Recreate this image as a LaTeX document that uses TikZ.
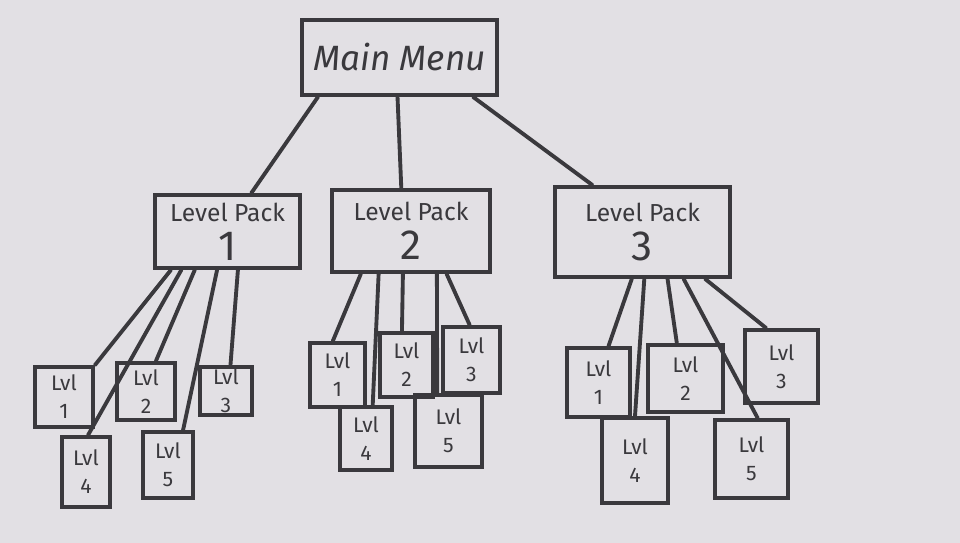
\documentclass[tikz,border=0pt]{standalone}
\usepackage{fontspec}
\setmainfont{Fira Sans}
\usepackage{xcolor}
\usetikzlibrary{calc}
\definecolor{paper}{HTML}{E2E0E4}
\definecolor{ink}{HTML}{3A393D}

\begin{document}
\begin{tikzpicture}[x=0.02cm,y=-0.02cm,line width=2.2pt,text=ink]
\tikzset{menubox/.style={draw=ink,inner sep=0pt,align=center,minimum width=195*0.02cm,minimum height=75*0.02cm,font=\fontsize{20}{22}\selectfont\itshape}}
\tikzset{packbox/.style 2 args={draw=ink,inner sep=0pt,align=center,minimum width=#1*0.02cm,minimum height=#2*0.02cm,font=\fontsize{14}{20}\selectfont}}
\tikzset{lvlbox/.style 2 args={draw=ink,inner sep=0pt,align=center,minimum width=#1*0.02cm,minimum height=#2*0.02cm,font=\fontsize{12}{16}\selectfont}}
\tikzset{link/.style={draw=ink,line cap=round}}
\fill[paper] (0,0) rectangle (960,543);
% top and packs
\node[menubox] (menu) at (399.5,57.5) {Main Menu};
\node[packbox={145}{73}] (pack1) at (227.5,231.5) {Level Pack\\[2pt]{\fontsize{24}{24}\selectfont 1}};
\node[packbox={158}{82}] (pack2) at (411,231) {Level Pack\\[2pt]{\fontsize{24}{24}\selectfont 2}};
\node[packbox={175}{90}] (pack3) at (642.5,232) {Level Pack\\[2pt]{\fontsize{24}{24}\selectfont 3}};
% levels of pack 1
\node[lvlbox={58}{60}] (p1l1) at (64,397) {Lvl\\{\large 1}};
\node[lvlbox={58}{57}] (p1l2) at (146,391.5) {Lvl\\{\large 2}};
\node[lvlbox={52}{48}] (p1l3) at (226,391) {Lvl\\{\large 3}};
\node[lvlbox={48}{70}] (p1l4) at (86,472) {Lvl\\{\large 4}};
\node[lvlbox={50}{66}] (p1l5) at (168,465) {Lvl\\{\large 5}};
% levels of pack 2
\node[lvlbox={55}{64}] (p2l1) at (337.5,375) {Lvl\\{\large 1}};
\node[lvlbox={53}{64}] (p2l2) at (406.5,365) {Lvl\\{\large 2}};
\node[lvlbox={57}{66}] (p2l3) at (471.5,360) {Lvl\\{\large 3}};
\node[lvlbox={52}{63}] (p2l4) at (366,438.5) {Lvl\\{\large 4}};
\node[lvlbox={67}{72}] (p2l5) at (448.5,431) {Lvl\\{\large 5}};
% levels of pack 3
\node[lvlbox={63}{69}] (p3l1) at (598.5,382.5) {Lvl\\{\large 1}};
\node[lvlbox={75}{67}] (p3l2) at (685.5,378.5) {Lvl\\{\large 2}};
\node[lvlbox={73}{73}] (p3l3) at (781.5,366.5) {Lvl\\{\large 3}};
\node[lvlbox={66}{85}] (p3l4) at (635,460.5) {Lvl\\{\large 4}};
\node[lvlbox={73}{78}] (p3l5) at (751.5,459) {Lvl\\{\large 5}};
% menu to packs
\draw[link] ($(menu.south west)!0.09!(menu.south east)$) -- ($(pack1.north west)!0.66!(pack1.north east)$);
\draw[link] ($(menu.south west)!0.49!(menu.south east)$) -- ($(pack2.north west)!0.44!(pack2.north east)$);
\draw[link] ($(menu.south west)!0.87!(menu.south east)$) -- ($(pack3.north west)!0.22!(pack3.north east)$);
% pack 1 to levels
\draw[link] ($(pack1.south west)!0.12!(pack1.south east)$) -- (p1l1.north east);
\draw[link] ($(pack1.south west)!0.19!(pack1.south east)$) -- ($(p1l4.north west)!0.54!(p1l4.north east)$);
\draw[link] ($(pack1.south west)!0.28!(pack1.south east)$) -- ($(p1l2.north west)!0.66!(p1l2.north east)$);
\draw[link] ($(pack1.south west)!0.43!(pack1.south east)$) -- ($(p1l5.north west)!0.78!(p1l5.north east)$);
\draw[link] ($(pack1.south west)!0.57!(pack1.south east)$) -- ($(p1l3.north west)!0.58!(p1l3.north east)$);
% pack 2 to levels
\draw[link] ($(pack2.south west)!0.19!(pack2.south east)$) -- ($(p2l1.north west)!0.42!(p2l1.north east)$);
\draw[link] ($(pack2.south west)!0.30!(pack2.south east)$) -- ($(p2l4.north west)!0.62!(p2l4.north east)$);
\draw[link] ($(pack2.south west)!0.45!(pack2.south east)$) -- ($(p2l2.north west)!0.42!(p2l2.north east)$);
\draw[link] ($(pack2.south west)!0.66!(pack2.south east)$) -- ($(p2l5.north west)!0.34!(p2l5.north east)$);
\draw[link] ($(pack2.south west)!0.72!(pack2.south east)$) -- ($(p2l3.north west)!0.47!(p2l3.north east)$);
% pack 3 to levels
\draw[link] ($(pack3.south west)!0.44!(pack3.south east)$) -- ($(p3l1.north west)!0.65!(p3l1.north east)$);
\draw[link] ($(pack3.south west)!0.51!(pack3.south east)$) -- ($(p3l4.north west)!0.50!(p3l4.north east)$);
\draw[link] ($(pack3.south west)!0.64!(pack3.south east)$) -- ($(p3l2.north west)!0.39!(p3l2.north east)$);
\draw[link] ($(pack3.south west)!0.73!(pack3.south east)$) -- ($(p3l5.north west)!0.58!(p3l5.north east)$);
\draw[link] ($(pack3.south west)!0.85!(pack3.south east)$) -- ($(p3l3.north west)!0.30!(p3l3.north east)$);
\end{tikzpicture}
\end{document}
